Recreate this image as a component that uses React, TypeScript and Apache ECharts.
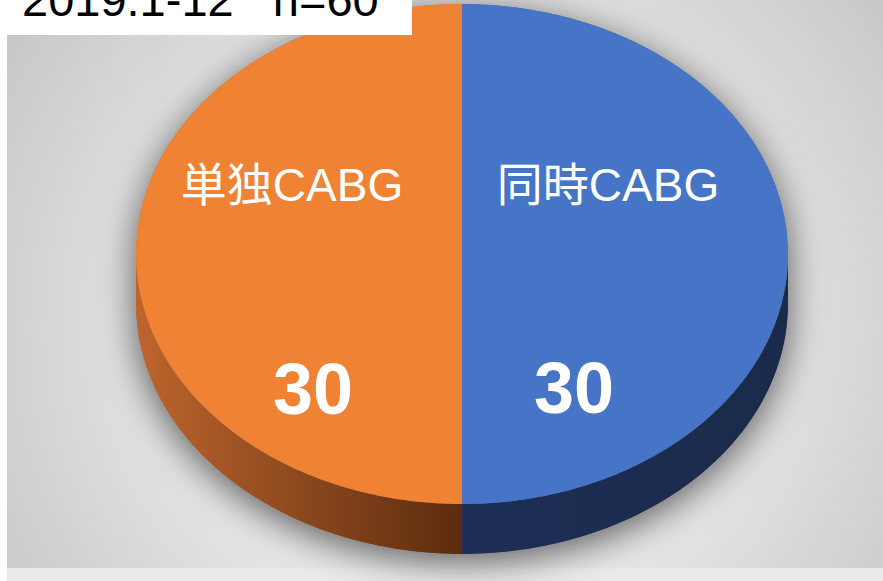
import React, { useEffect, useRef } from "react";
import * as echarts from "echarts";

// ---- data ----
const categories: string[] = ["同時CABG", "単独CABG"];
const values: number[] = [30, 30];
const titleText = "2019.1-12   n=60";

// ---- layout / style ----
const W = 883;
const H = 581;
const CX = 462;
const CY = 254;
const RX = 326;
const RY = 250;
const DEPTH = 50;
const TOP_COLORS = ["#4674C6", "#F08234"];
const SIDE_COLORS = [
  ["#1E2F57", "#1A2A4A"],
  ["#BE652C", "#5C2C0F"],
];
// label offsets from the pie centre: [nameDx, nameDy, valueDx, valueDy]
const LABEL_OFFSETS = [
  [146, -69, 112, 134],
  [-170, -69, -149, 135],
];

function arcPoints(a: number, b: number, dy: number, steps: number) {
  const pts: number[][] = [];
  for (let i = 0; i <= steps; i++) {
    const t = a + ((b - a) * i) / steps;
    pts.push([CX + RX * Math.cos(t), CY + dy + RY * Math.sin(t)]);
  }
  return pts;
}

export default function App() {
  const ref = useRef<HTMLDivElement>(null);

  useEffect(() => {
    if (!ref.current) return;
    const chart = echarts.init(ref.current, undefined, { renderer: "svg" });
    const total = values.reduce((s, v) => s + v, 0);

    const silhouette = [
      ...arcPoints(Math.PI, 2 * Math.PI, 0, 120),
      ...arcPoints(0, Math.PI, DEPTH, 120),
    ];

    const option: any = {
      animation: false,
      backgroundColor: "#ffffff",
      graphic: [
        {
          type: "rect",
          z: 0,
          shape: { x: 7, y: 0, width: W - 7, height: 568 },
          style: {
            fill: {
              type: "radial",
              x: 460,
              y: 330,
              r: 560,
              global: true,
              colorStops: [
                { offset: 0, color: "#f3f3f3" },
                { offset: 0.5, color: "#e6e6e6" },
                { offset: 1, color: "#c5c5c5" },
              ],
            },
          },
        },
        {
          type: "rect",
          z: 0,
          shape: { x: 7, y: 568, width: W - 7, height: H - 568 },
          style: { fill: "#ebebeb" },
        },
        {
          type: "polygon",
          z: 1,
          shape: { points: silhouette },
          style: {
            fill: "#777777",
            shadowBlur: 36,
            shadowColor: "rgba(0,0,0,0.6)",
            shadowOffsetY: 8,
          },
        },
        {
          type: "rect",
          z: 10,
          shape: { x: 0, y: 0, width: 412, height: 35 },
          style: { fill: "#ffffff" },
        },
        {
          type: "text",
          z: 11,
          x: 22,
          y: -1,
          style: {
            text: titleText,
            fill: "#000000",
            font: "47px 'Liberation Sans', Arial, sans-serif",
            verticalAlign: "middle",
            align: "left",
          },
        },
      ],
      series: [
        {
          type: "custom",
          coordinateSystem: "none",
          z: 5,
          data: categories.map((name, i) => ({ name, value: values[i] })),
          renderItem: (params: any, api: any) => {
            const idx = params.dataIndex;
            const v = api.value(0);
            let before = 0;
            for (let i = 0; i < idx; i++) before += values[i];
            const start = -Math.PI / 2 + (2 * Math.PI * before) / total;
            const end = start + (2 * Math.PI * v) / total;
            const children: any[] = [];
            const a = Math.max(start, 0);
            const b = Math.min(end, Math.PI);
            if (b > a) {
              const pts = [
                ...arcPoints(a, b, 0, 80),
                ...arcPoints(b, a, DEPTH, 80),
              ];
              children.push({
                type: "polygon",
                shape: { points: pts },
                style: {
                  fill: new echarts.graphic.LinearGradient(0, 0, 1, 0, [
                    { offset: 0, color: SIDE_COLORS[idx][0] },
                    { offset: 1, color: SIDE_COLORS[idx][1] },
                  ]),
                },
              });
            }
            const top = [[CX, CY], ...arcPoints(start, end, 0, 160)];
            children.push({
              type: "polygon",
              shape: { points: top },
              style: { fill: TOP_COLORS[idx] },
            });
            const off = LABEL_OFFSETS[idx];
            children.push({
              type: "text",
              x: CX + off[0],
              y: CY + off[1],
              style: {
                text: categories[idx],
                fill: "#ffffff",
                font: "46px 'Liberation Sans', 'Noto Sans CJK JP', Arial, sans-serif",
                align: "center",
                verticalAlign: "middle",
              },
            });
            children.push({
              type: "text",
              x: CX + off[2],
              y: CY + off[3],
              style: {
                text: String(v),
                fill: "#ffffff",
                font: "bold 72px 'Liberation Sans', Arial, sans-serif",
                align: "center",
                verticalAlign: "middle",
              },
            });
            return { type: "group", children };
          },
        },
      ],
    };
    chart.setOption(option);
    return () => chart.dispose();
  }, []);

  return (
    <div
      ref={ref}
      style={{ position: "fixed", left: 0, top: 0, width: W, height: H }}
    />
  );
}
